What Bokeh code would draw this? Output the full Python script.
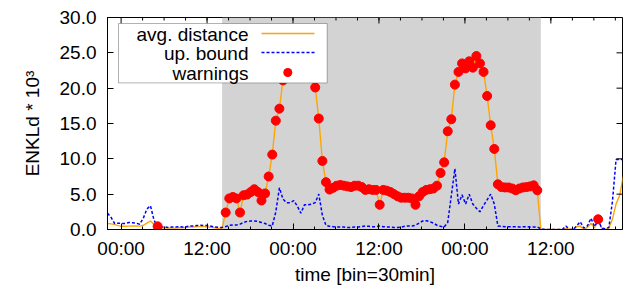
from bokeh.plotting import figure
from bokeh.models import (Range1d, FixedTicker, BoxAnnotation, Label,
                          Arrow, ColumnDataSource, PrintfTickFormatter)
from bokeh.embed import file_html
from bokeh.resources import INLINE

# ---- data (30-minute bins, hours relative to first midnight) ----
t_first = -1.9
bin_hours = 0.5

avg_distance = [
    0.85, 0.8, 0.7, 0.55, 0.45, 0.45, 0.48, 0.5, 0.5, 0.48,
    0.6, 0.9, 1.2, 0.7, 0.45, 0.25, 0.2, 0.2, 0.2, 0.2,
    0.25, 0.25, 0.3, 0.35, 0.35, 0.4, 0.4, 0.4, 0.35, 0.3,
    0.25, 0.15, 0.2, 2.4, 4.4, 4.6, 4.4, 2.4, 4.85, 4.95,
    5.3, 5.7, 5.3, 4.1, 5.1, 7.5, 10.6, 15.4, 17.1, 21.1,
    22.5, 23.5, 23.0, 24.0, 23.5, 24.5, 23.0, 22.0, 20.1, 15.7,
    9.7, 6.7, 5.65, 5.9, 6.2, 6.3, 6.2, 6.1, 6.0, 6.2,
    6.2, 6.0, 5.6, 5.7, 5.6, 5.6, 3.5, 5.6, 5.5, 5.3,
    5.0, 4.7, 4.5, 4.5, 4.5, 4.4, 3.5, 4.7, 5.3, 5.6,
    5.7, 5.8, 6.2, 8.0, 9.5, 13.9, 15.6, 20.5, 22.3, 23.5,
    22.8, 23.8, 22.9, 24.55, 23.5, 22.3, 18.9, 14.75, 11.4, 6.4,
    6.0, 5.95, 5.95, 5.8, 5.55, 5.8, 5.95, 6.0, 6.1, 6.25,
    5.55, 0.0, 0.0, 0.0, 0.0, 0.0, 0.0, 0.0, 0.15, 0.0,
    0.0, 0.4, 0.5, 0.0, 0.3, 0.9, 0.2, 1.45, 0.15, 0.0,
    0.2, 1.5, 3.6, 4.8, 7.5,
]

up_bound = [
    2.3, 1.7, 0.85, 0.9, 0.85, 0.85, 1.0, 0.95, 0.9, 0.75,
    1.6, 2.9, 3.35, 1.3, 0.35, 0.35, 0.35, 0.3, 0.35, 0.35,
    0.4, 0.35, 0.4, 0.5, 0.5, 0.55, 0.6, 0.55, 0.55, 0.45,
    0.35, 0.3, 0.3, 0.4, 0.6, 0.65, 0.65, 0.75, 1.0, 1.15,
    1.2, 1.2, 1.15, 1.0, 0.85, 0.6, 0.5, 2.5, 5.9, 4.3,
    3.8, 3.8, 4.1, 3.3, 2.3, 3.5, 3.5, 3.6, 3.8, 5.0,
    2.0, 0.6, 0.45, 0.4, 0.35, 0.35, 0.35, 0.3, 0.3, 0.35,
    0.35, 0.4, 0.5, 0.45, 0.4, 0.4, 0.5, 0.4, 0.35, 0.35,
    0.3, 0.3, 0.35, 0.45, 0.5, 0.5, 0.6, 0.9, 1.2, 1.25,
    1.1, 0.9, 0.6, 0.45, 0.35, 1.0, 4.8, 8.6, 3.6, 4.9,
    3.6, 5.0, 3.6, 3.0, 2.5, 3.4, 4.2, 5.0, 3.6, 0.5,
    0.45, 0.4, 0.4, 0.4, 0.4, 0.35, 0.4, 0.4, 0.35, 0.35,
    0.35, 0.1, 0.0, 0.0, 0.0, 0.0, 0.0, 0.0, 0.5, 0.0,
    0.0, 0.5, 1.1, 0.2, 0.5, 1.6, 0.4, 1.3, 0.2, 0.1,
    0.3, 4.0, 9.9, 9.9, 9.9,
]

# bins flagged as warnings
warning_bins = [14] + list(range(33, 121)) + [137]

shade_start = 14.1   # hours
shade_end = 58.6

x_ticks = [0, 12, 24, 36, 48, 60]
x_tick_labels = ["00:00", "12:00", "00:00", "12:00", "00:00", "12:00"]
x_minor = [h for h in range(3, 70, 3)]
y_ticks = [0, 5, 10, 15, 20, 25, 30]

X0, X1 = -1.9, 70.0
Y0, Y1 = 0, 30
FW, FH = 515, 212

times = [t_first + bin_hours * i for i in range(len(avg_distance))]
src = ColumnDataSource(dict(t=times, avg=avg_distance, ub=up_bound))
wsrc = ColumnDataSource(dict(t=[times[i] for i in warning_bins],
                             v=[avg_distance[i] for i in warning_bins]))

FONT = "Liberation Sans"
FS = "19px"

p = figure(frame_width=FW, frame_height=FH,
           min_border_left=107, min_border_right=13, min_border_top=17, min_border_bottom=62,
           x_range=Range1d(X0, X1), y_range=Range1d(Y0, Y1),
           output_backend="svg", toolbar_location=None)
p.xgrid.visible = False
p.ygrid.visible = False
p.outline_line_color = "black"
p.outline_line_width = 1
p.background_fill_color = "white"
p.border_fill_color = "white"

p.add_layout(BoxAnnotation(left=shade_start, right=shade_end, fill_color="#d3d3d3",
                           fill_alpha=1.0, line_alpha=0, level="underlay"))

p.line("t", "avg", source=src, line_color="#ffa500", line_width=1.4)
p.line("t", "ub", source=src, line_color="#0000ff", line_width=1.5, line_dash="3 2")
p.scatter("t", "v", source=wsrc, size=9, fill_color="#ff0000", line_color="#ff0000")

# mirrored ticks on the top and right border (gnuplot style)
maj_y = 6 * (Y1 - Y0) / FH
min_y = 3 * (Y1 - Y0) / FH
maj_x = 6 * (X1 - X0) / FW
p.segment(x0=x_ticks, y0=[Y1] * len(x_ticks), x1=x_ticks, y1=[Y1 - maj_y] * len(x_ticks),
          line_color="black", line_width=1)
p.segment(x0=x_minor, y0=[Y1] * len(x_minor), x1=x_minor, y1=[Y1 - min_y] * len(x_minor),
          line_color="black", line_width=1)
p.segment(x0=[X1] * len(y_ticks), y0=y_ticks, x1=[X1 - maj_x] * len(y_ticks), y1=y_ticks,
          line_color="black", line_width=1)

xt = FixedTicker(ticks=x_ticks, minor_ticks=x_minor)
yt = FixedTicker(ticks=y_ticks, minor_ticks=[])
overrides = {t: lab for t, lab in zip(x_ticks, x_tick_labels)}


def style(ax):
    ax.axis_line_color = "black"
    ax.axis_line_width = 1
    ax.major_tick_line_color = "black"
    ax.minor_tick_line_color = "black"
    ax.major_tick_in = 6
    ax.major_tick_out = 0
    ax.minor_tick_in = 3
    ax.minor_tick_out = 0
    ax.major_label_text_font = FONT
    ax.major_label_text_font_size = FS
    ax.major_label_text_color = "black"
    ax.axis_label_text_font = FONT
    ax.axis_label_text_font_size = FS
    ax.axis_label_text_font_style = "normal"
    ax.axis_label_text_color = "black"


xa = p.xaxis[0]
xa.ticker = xt
xa.major_label_overrides = overrides
xa.axis_label = "time [bin=30min]"
style(xa)
xa.major_label_standoff = 8
xa.axis_label_standoff = 2

ya = p.yaxis[0]
ya.ticker = yt
ya.formatter = PrintfTickFormatter(format="%.1f")
ya.axis_label = "ENKLd * 10³"
style(ya)
ya.major_label_standoff = 11
ya.axis_label_standoff = 14

# ---- legend (gnuplot style: text on the left, sample on the right) ----
S = "screen"
p.add_layout(BoxAnnotation(left=11, right=219.7, bottom=146.6, top=206,
                           left_units=S, right_units=S, top_units=S, bottom_units=S,
                           fill_color="white", fill_alpha=1.0, line_color="black",
                           line_width=1, level="overlay"))
rows = [("avg. distance", 195.5), ("up. bound", 176.5), ("warnings", 156.5)]
for txt, yy in rows:
    p.add_layout(Label(x=141, y=yy, x_units=S, y_units=S, text=txt, text_align="right",
                       text_baseline="middle", text_font=FONT, text_font_size=FS,
                       text_color="black", level="overlay"))
p.add_layout(Arrow(start=None, end=None, x_start=154, y_start=196, x_end=207, y_end=196,
                   start_units=S, end_units=S, line_color="#ffa500", line_width=1.4,
                   level="overlay"))
p.add_layout(Arrow(start=None, end=None, x_start=154, y_start=177, x_end=207, y_end=177,
                   start_units=S, end_units=S, line_color="#0000ff", line_width=1.5,
                   line_dash="3 2", level="overlay"))
p.add_layout(BoxAnnotation(left=175.8, right=184.8, bottom=152.5, top=161.5,
                           left_units=S, right_units=S, top_units=S, bottom_units=S,
                           fill_color="#ff0000", fill_alpha=1.0, line_alpha=0,
                           border_radius=5, level="overlay"))

open("out.html", "w").write(file_html(p, INLINE))
